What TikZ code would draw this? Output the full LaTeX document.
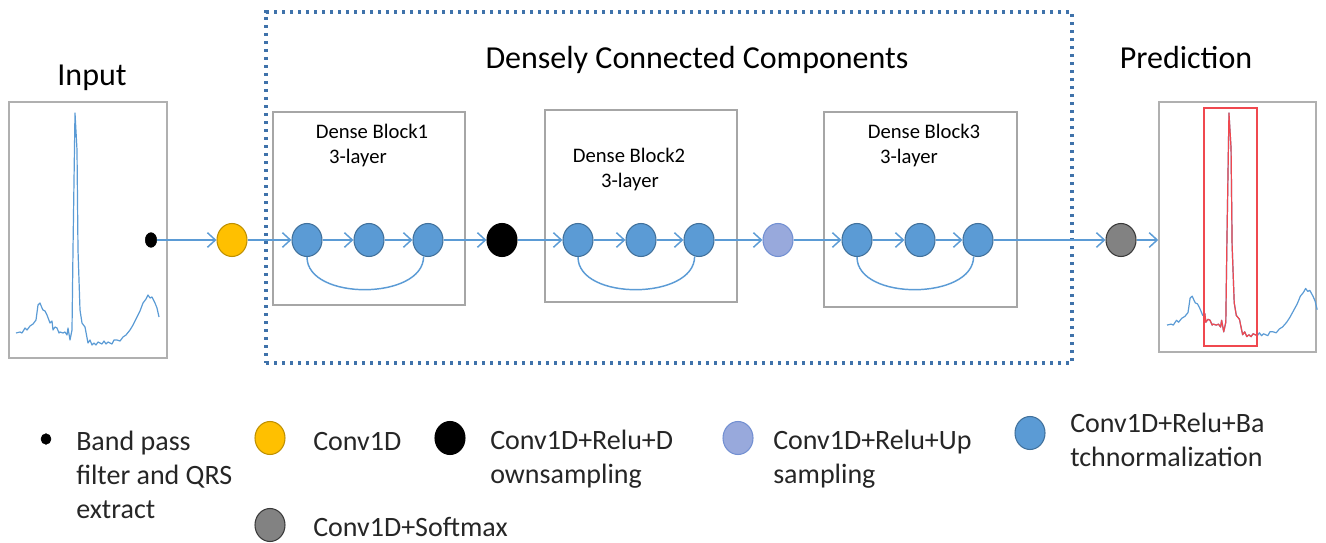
\documentclass[tikz,border=0pt]{standalone}
\usepackage{fontspec}
\setmainfont{Carlito}
\usetikzlibrary{arrows.meta,shapes.geometric}
\definecolor{lineblue}{HTML}{5B9BD5}
\definecolor{dotblue}{HTML}{3F72AA}
\definecolor{ballblue}{HTML}{5B9BD5}
\definecolor{ballbluedark}{HTML}{41719C}
\definecolor{ballorange}{HTML}{FFC000}
\definecolor{ballorangedark}{HTML}{BF9000}
\definecolor{balllav}{HTML}{98A9DC}
\definecolor{balllavdark}{HTML}{7390D2}
\definecolor{ballgray}{HTML}{828282}
\definecolor{ballgraydark}{HTML}{3A3A3A}
\definecolor{panelgray}{HTML}{B0B0B0}
\definecolor{blockgray}{HTML}{A6A6A6}
\definecolor{txt}{HTML}{262626}
\definecolor{qrsred}{HTML}{F0484F}
\newcommand{\ecgtrace}[1]{\draw[#1] (16,333) -- (20,332) -- (22,333) -- (25,328) -- (27,330) -- (30,326) -- (33,324) -- (36,320) -- (38,305) -- (40,303) -- (42,308) -- (43,310) -- (45,311) -- (47,315) -- (50,323) -- (52,321) -- (53,330) -- (55,327) -- (57,328) -- (59,333) -- (60,332) -- (63,333) -- (65,332) -- (67,335) -- (68,328) -- (70,340) -- (72,330) -- (73,250) -- (75,113) -- (77,150) -- (78,250) -- (80,310) -- (82,323) -- (85,327) -- (88,343) -- (90,340) -- (92,345) -- (94,343) -- (96,345) -- (98,342) -- (100,343) -- (102,344) -- (104,341) -- (106,344) -- (108,342) -- (110,343) -- (112,344) -- (114,340) -- (117,340) -- (120,341) -- (123,337) -- (126,335) -- (130,330) -- (133,325) -- (137,317) -- (140,311) -- (143,303) -- (146,299) -- (148,295) -- (150,298) -- (152,297) -- (155,303) -- (157,308) -- (159,317);}
\begin{document}
\begin{tikzpicture}[x=0.75pt,y=-0.75pt,
  every node/.style={text=txt},
  ball/.style={ellipse, minimum width=22.5pt, minimum height=24.75pt, inner sep=0pt, line width=0.8pt},
  blueball/.style={ball, fill=ballblue, draw=ballbluedark},
  orangeball/.style={ball, fill=ballorange, draw=ballorangedark},
  blackball/.style={ball, fill=black, draw=black},
  lavball/.style={ball, fill=balllav, draw=balllavdark},
  grayball/.style={ball, fill=ballgray, draw=ballgraydark},
  smalldot/.style={ellipse, fill=black, draw=black, minimum width=8.5pt, minimum height=11pt, inner sep=0pt},
  legdot/.style={ellipse, fill=black, draw=black, minimum width=7.5pt, minimum height=8pt, inner sep=0pt},
  panel/.style={rectangle, draw=panelgray, line width=1.1pt, inner sep=0pt},
  blockbox/.style={rectangle, draw=blockgray, line width=0.9pt, inner sep=0pt},
  dotbox/.style={rectangle, draw=dotblue, line width=2.4pt, dash pattern=on 2.5pt off 3.5pt, inner sep=0pt},
  qrsbox/.style={rectangle, draw=qrsred, line width=1pt, inner sep=0pt},
  title/.style={font=\fontsize{24}{29}\selectfont, anchor=base, inner sep=0pt, text=black},
  blocktext/.style={font=\fontsize{15.5}{19}\selectfont, anchor=base, inner sep=0pt, text=black},
  legtext/.style={font=\fontsize{21}{25.5}\selectfont, anchor=base west, align=left, inner sep=0pt},
  link/.style={draw=lineblue, line width=1.1pt, -{Straight Barb[length=6pt,width=11pt]}},
  skip/.style={draw=lineblue, line width=1.1pt},
  sig/.style={draw=lineblue, line width=0.9pt, line join=round},
  redsig/.style={draw=qrsred, line width=0.9pt, line join=round}
]
\useasboundingbox (0,0) rectangle (1326,542);

% titles
\node[title] (tin) at (92,85) {Input};
\node[title] (tdense) at (697,69) {Densely Connected Components};
\node[title] (tpred) at (1186,69) {Prediction};

% input panel with ECG
\node[panel, minimum width=118.5pt, minimum height=192pt] (inpanel) at (88,230) {};
\ecgtrace{sig}

% prediction panel with ECG and QRS box
\node[panel, minimum width=117.75pt, minimum height=187.5pt] (predpanel) at (1237.5,227) {};
\begin{scope}[shift={(1167,113)}, xscale=1.05, yscale=0.964, shift={(-16,-113)}]
  \ecgtrace{sig}
\end{scope}
\node[qrsbox, minimum width=39.75pt, minimum height=178.5pt] (qrs) at (1230.5,227) {};
\begin{scope}
  \clip (qrs.south west) rectangle (qrs.north east);
  \begin{scope}[shift={(1167,113)}, xscale=1.05, yscale=0.964, shift={(-16,-113)}]
    \ecgtrace{redsig}
  \end{scope}
\end{scope}

% dense components frame
\node[dotbox, minimum width=604.5pt, minimum height=263.25pt] (dense) at (669,187.5) {};

% dense blocks
\node[blockbox, minimum width=144pt, minimum height=144.75pt] (db1) at (369,208.5) {};
\node[blockbox, minimum width=144pt, minimum height=144pt] (db2) at (641,206) {};
\node[blockbox, minimum width=144.75pt, minimum height=146.25pt] (db3) at (920.5,209.5) {};
\node[blocktext] (db1a) at (372,138) {Dense Block1};
\node[blocktext] (db1b) at (358,163) {3-layer};
\node[blocktext] (db2a) at (629,162) {Dense Block2};
\node[blocktext] (db2b) at (630,187) {3-layer};
\node[blocktext] (db3a) at (924,138) {Dense Block3};
\node[blocktext] (db3b) at (909,163) {3-layer};

% pipeline nodes
\node[smalldot] (bp) at (151,240) {};
\node[orangeball] (conv) at (232,240) {};
\node[blueball] (a1) at (307,240) {};
\node[blueball] (a2) at (369,240) {};
\node[blueball] (a3) at (428,240) {};
\node[blackball] (down) at (502,240) {};
\node[blueball] (b1) at (578,240) {};
\node[blueball] (b2) at (641,240) {};
\node[blueball] (b3) at (699,240) {};
\node[lavball] (up) at (778,240) {};
\node[blueball] (c1) at (857,240) {};
\node[blueball] (c2) at (920,240) {};
\node[blueball] (c3) at (978,240) {};
\node[grayball] (soft) at (1121,240) {};

% connectors
\draw[link] (bp) -- (conv);
\draw[link] (conv) -- (a1);
\draw[link] (a1) -- (a2);
\draw[link] (a2) -- (a3);
\draw[link] (a3) -- (down);
\draw[link] (down) -- (b1);
\draw[link] (b1) -- (b2);
\draw[link] (b2) -- (b3);
\draw[link] (b3) -- (up);
\draw[link] (up) -- (c1);
\draw[link] (c1) -- (c2);
\draw[link] (c2) -- (c3);
\draw[link] (c3) -- (soft);
\draw[link] (soft) -- (predpanel.west |- soft);
\draw[skip] (a1.south) .. controls +(0,44) and +(0,44) .. (a3.-105);
\draw[skip] (b1.south) .. controls +(0,44) and +(0,44) .. (b3.-105);
\draw[skip] (c1.south) .. controls +(0,44) and +(0,44) .. (c3.-105);

% legend (multi-line labels are anchored at the baseline of their last line)
\node[legdot] (lbp) at (46,439) {};
\node[legtext] (lbpt) at (76,518) {Band pass\\filter and QRS\\extract};
\node[orangeball] (lconv) at (270,438) {};
\node[legtext] (lconvt) at (313,450) {Conv1D};
\node[blackball] (ldown) at (450,438) {};
\node[legtext] (ldownt) at (490,483) {Conv1D+Relu+D\\ownsampling};
\node[lavball] (lup) at (738,438) {};
\node[legtext] (lupt) at (773,483) {Conv1D+Relu+Up\\sampling};
\node[blueball] (lbn) at (1030,433) {};
\node[legtext] (lbnt) at (1070,466) {Conv1D+Relu+Ba\\tchnormalization};
\node[grayball] (lsoft) at (270,525) {};
\node[legtext] (lsoftt) at (313,536) {Conv1D+Softmax};
\end{tikzpicture}
\end{document}
